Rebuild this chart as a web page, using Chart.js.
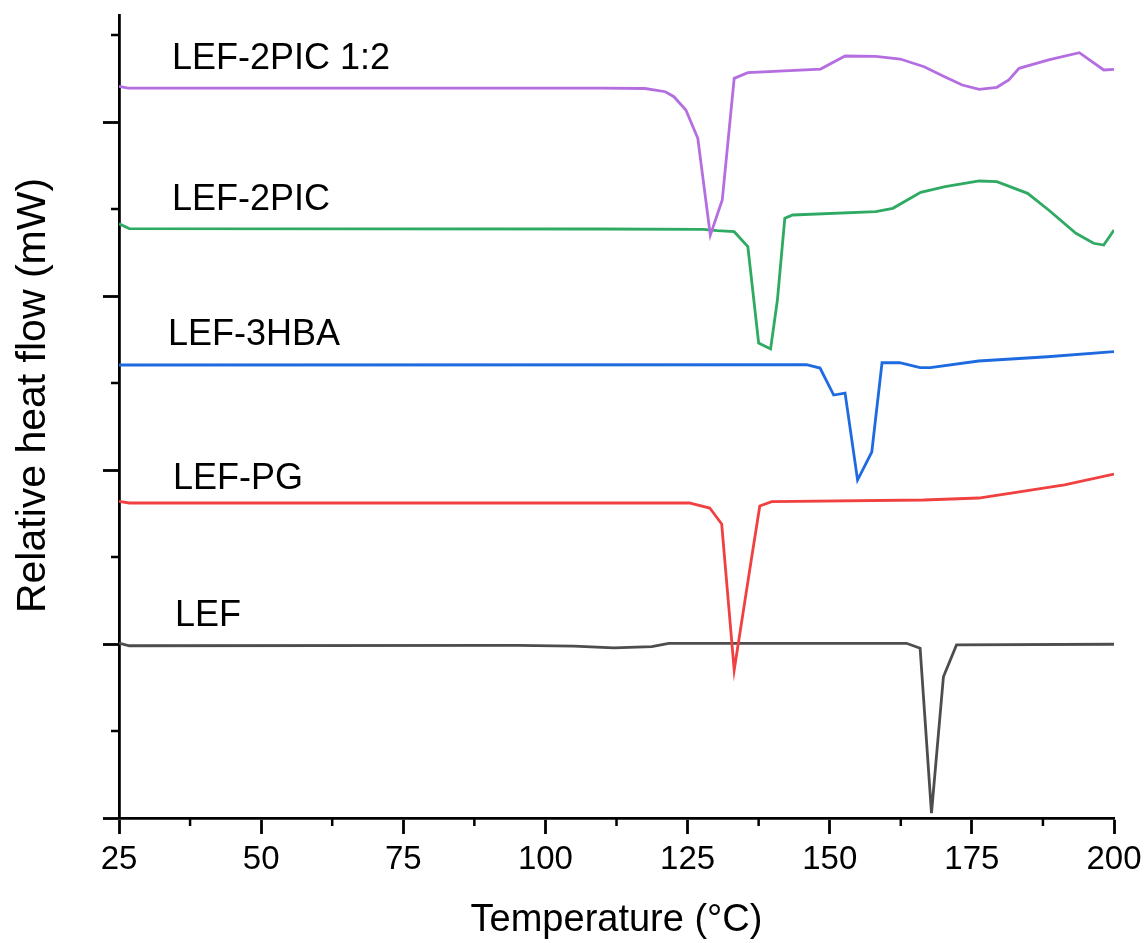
<!DOCTYPE html>
<html lang="en">
<head>
    <meta charset="UTF-8">
    <title>DSC curves</title>
    <script src="https://cdn.jsdelivr.net/npm/chart.js"></script>
    <style>
        body { margin: 0; background: #fff; }
    </style>
</head>
<body>
    <canvas id="dscChart" width="1144" height="943"></canvas>

    <script>
        // temperatures (°C) and relative heat flow (arbitrary offset units) per sample
        const purpleT = [25, 26.6, 109.6, 117.5, 121.1, 122.6, 124.7, 126.8, 129.0, 131.1, 133.2, 135.6, 148.4, 152.7, 158.1, 162.4, 166.6, 170.3, 173.3, 176.3, 179.4, 181.5, 183.3, 188.5, 193.9, 198.2, 200];
        const purpleV = [8.41, 8.39, 8.39, 8.385, 8.348, 8.291, 8.138, 7.813, 6.70, 7.103, 8.502, 8.567, 8.609, 8.759, 8.755, 8.724, 8.636, 8.517, 8.425, 8.376, 8.399, 8.483, 8.617, 8.713, 8.797, 8.598, 8.606];

        const greenT = [25, 26.8, 109.6, 127.8, 130.2, 133.2, 135.6, 137.5, 139.6, 140.8, 142.1, 143.5, 158.1, 161.1, 166.0, 170.3, 176.3, 179.4, 184.8, 188.5, 193.3, 196.4, 198.2, 200];
        const greenV = [6.83, 6.775, 6.77, 6.767, 6.751, 6.739, 6.567, 5.46, 5.391, 5.954, 6.893, 6.931, 6.969, 7.008, 7.192, 7.256, 7.322, 7.314, 7.18, 6.989, 6.721, 6.606, 6.586, 6.759];

        const blueT = [25, 145.9, 148.3, 150.7, 152.7, 154.9, 157.4, 159.2, 162.3, 165.9, 167.7, 176.2, 188.3, 200];
        const blueV = [5.207, 5.21, 5.172, 4.862, 4.885, 3.885, 4.207, 5.233, 5.233, 5.176, 5.176, 5.253, 5.302, 5.36];

        const redT = [25, 26.8, 125.3, 128.9, 131.0, 133.2, 136.2, 137.7, 139.8, 166.5, 176.2, 182.2, 191.3, 200];
        const redV = [3.64, 3.621, 3.621, 3.563, 3.379, 1.701, 2.966, 3.586, 3.636, 3.655, 3.678, 3.736, 3.828, 3.954];

        const blackT = [25, 26.8, 95, 105, 112, 118.7, 121.7, 163.5, 165.9, 167.9, 170.0, 172.3, 200];
        const blackV = [2.011, 1.98, 1.985, 1.975, 1.955, 1.969, 2.008, 2.008, 1.951, 0.057, 1.624, 1.989, 1.997];

        const sampleNames = ['LEF-2PIC 1:2', 'LEF-2PIC', 'LEF-3HBA', 'LEF-PG', 'LEF'];

        // where each sample name sits (data units: °C, heat flow)
        const nameT = [34.3, 34.3, 33.6, 34.5, 34.85];
        const nameV = [8.609, 6.989, 5.437, 3.782, 2.207];

        const xMajor = 25;
        const yMajor = 2;

        function toPoints(ts, vs) {
            return ts.map((t, i) => ({ x: t, y: vs[i] }));
        }

        const FONT = '"Liberation Sans", Arial, sans-serif';

        // minor ticks, curve names and the y title
        const extras = {
            id: 'extras',
            afterDraw(chart) {
                const ctx = chart.ctx;
                const xs = chart.scales.x;
                const ys = chart.scales.y;
                const area = chart.chartArea;
                ctx.save();
                ctx.strokeStyle = '#000';
                ctx.lineWidth = 2.5;
                ctx.beginPath();
                for (let t = xs.min + xMajor / 2; t < xs.max; t += xMajor) {
                    const px = xs.getPixelForValue(t);
                    ctx.moveTo(px, area.bottom);
                    ctx.lineTo(px, area.bottom + 8);
                }
                for (let v = ys.min + yMajor / 2; v < ys.max; v += yMajor) {
                    const py = ys.getPixelForValue(v);
                    ctx.moveTo(area.left - 8, py);
                    ctx.lineTo(area.left, py);
                }
                ctx.stroke();

                ctx.fillStyle = '#000';
                ctx.font = '36px ' + FONT;
                ctx.textAlign = 'left';
                ctx.textBaseline = 'alphabetic';
                sampleNames.forEach((name, i) => {
                    ctx.fillText(name, xs.getPixelForValue(nameT[i]), ys.getPixelForValue(nameV[i]));
                });

                // y title, a bit above the plot centre as in the original
                ctx.font = '41px ' + FONT;
                ctx.textAlign = 'center';
                ctx.translate(45, (area.top + area.bottom) / 2 - 21);
                ctx.rotate(-Math.PI / 2);
                ctx.fillText('Relative heat flow (mW)', 0, 0);
                ctx.restore();
            }
        };

        function curve(ts, vs, color) {
            return {
                data: toPoints(ts, vs),
                borderColor: color,
                borderWidth: 2.8,
                pointRadius: 0,
                tension: 0,
                fill: false
            };
        }

        new Chart(document.getElementById('dscChart').getContext('2d'), {
            type: 'line',
            data: {
                datasets: [
                    curve(purpleT, purpleV, '#B46EE0'),
                    curve(greenT, greenV, '#2EAA62'),
                    curve(blueT, blueV, '#1E6BE0'),
                    curve(redT, redV, '#F04040'),
                    curve(blackT, blackV, '#4D4D4D')
                ]
            },
            options: {
                responsive: false,
                animation: false,
                layout: { padding: { top: 15, right: 30, left: 0, bottom: 0 } },
                plugins: {
                    legend: { display: false },
                    tooltip: { enabled: false }
                },
                scales: {
                    x: {
                        type: 'linear',
                        min: 25,
                        max: 200,
                        ticks: {
                            stepSize: xMajor,
                            color: '#000',
                            padding: 6,
                            font: { size: 33, family: FONT }
                        },
                        grid: {
                            drawOnChartArea: false,
                            tickLength: 16,
                            tickWidth: 2.8,
                            tickColor: '#000'
                        },
                        border: { color: '#000', width: 2.8 },
                        title: {
                            display: true,
                            text: 'Temperature (°C)',
                            color: '#000',
                            font: { size: 38, family: FONT },
                            padding: { top: 0, bottom: 0 }
                        },
                        afterFit(s) {
                            s.height = 125;
                            s.paddingLeft = 0;
                            s.paddingRight = 0;
                        }
                    },
                    y: {
                        type: 'linear',
                        min: 0,
                        max: 9.23,
                        ticks: {
                            display: false,
                            stepSize: yMajor,
                            includeBounds: false
                        },
                        grid: {
                            drawOnChartArea: false,
                            tickLength: 16,
                            tickWidth: 2.8,
                            tickColor: '#000'
                        },
                        border: { color: '#000', width: 2.8 },
                        afterFit(s) {
                            s.width = 119;
                            s.paddingTop = 0;
                            s.paddingBottom = 0;
                        }
                    }
                }
            },
            plugins: [extras]
        });
    </script>
</body>
</html>
